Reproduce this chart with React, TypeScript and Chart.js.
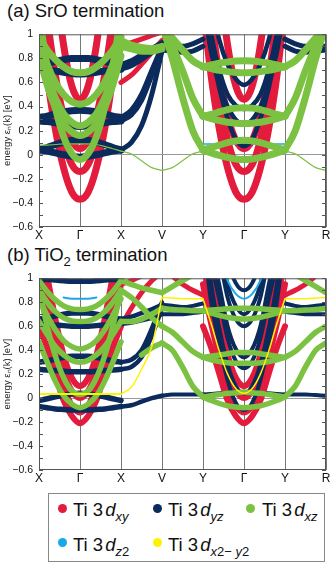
import React, { useEffect, useRef } from 'react';
import { Chart, registerables } from 'chart.js';
Chart.register(...registerables);

const RED = '#e31b3c';
const NAVY = '#0b2b5c';
const GREEN = '#7cc242';
const CYAN = '#1ba8e8';
const YEL = '#fff200';

const kLabels = ['X', 'Γ', 'X', 'V', 'Y', 'Γ', 'Y', 'R'];
const yMinorTicks = [-0.6, -0.5, -0.4, -0.3, -0.2, -0.1, 0, 0.1, 0.2, 0.3, 0.4, 0.5, 0.6, 0.7, 0.8, 0.9, 1];

// k grids (path coordinate) for each part of the path
const kA = [0, 0.2, 0.4, 0.6, 0.8, 1, 1.2, 1.4, 1.6, 1.8, 2];
const kXV = [2, 2.25, 2.5, 2.75, 3];
const kVY = [3, 3.25, 3.5, 3.75, 4];
const kC = [4, 4.2, 4.4, 4.6, 4.8, 5, 5.2, 5.4, 5.6, 5.8, 6];
const kYR = [6, 6.25, 6.5, 6.75, 7];

// ---------- (a) SrO termination ----------
const aR1 = [1.23, 0.65, 0.21, -0.11, -0.31, -0.37, -0.31, -0.11, 0.21, 0.65, 1.23];
const aR2 = [1.46, 0.88, 0.44, 0.12, -0.08, -0.14, -0.08, 0.12, 0.44, 0.88, 1.46];
const aR3 = [1.75, 1.14, 0.66, 0.32, 0.12, 0.05, 0.12, 0.32, 0.66, 1.14, 1.75];
const aR4 = [3.3, 2.25, 1.47, 0.91, 0.57, 0.46, 0.57, 0.91, 1.47, 2.25, 3.3];
const aN1 = [0.04, 0.06, 0.085, 0.105, 0.118, 0.12, 0.118, 0.105, 0.085, 0.06, 0.04];
const aN2 = [0.04, 0.03, 0.015, 0.0, -0.012, -0.02, -0.012, 0.0, 0.015, 0.03, 0.04];
const aN3 = [0.31, 0.32, 0.34, 0.355, 0.365, 0.37, 0.365, 0.355, 0.34, 0.32, 0.31];
const aN4 = [0.28, 0.275, 0.265, 0.25, 0.24, 0.235, 0.24, 0.25, 0.265, 0.275, 0.28];
const aN5 = [0.75, 0.76, 0.775, 0.79, 0.8, 0.8, 0.8, 0.79, 0.775, 0.76, 0.75];
const aN6 = [0.71, 0.705, 0.695, 0.685, 0.675, 0.67, 0.675, 0.685, 0.695, 0.705, 0.71];
const aG1 = [0.98, 0.87, 0.79, 0.73, 0.69, 0.68, 0.69, 0.73, 0.79, 0.87, 0.98];
const aG2 = [0.95, 0.75, 0.6, 0.5, 0.44, 0.42, 0.44, 0.5, 0.6, 0.75, 0.95];
const aG3 = [0.9, 0.66, 0.47, 0.34, 0.27, 0.24, 0.27, 0.34, 0.47, 0.66, 0.9];
const aG4 = [0.82, 0.58, 0.39, 0.26, 0.19, 0.16, 0.19, 0.26, 0.39, 0.58, 0.82];
const aG5 = [1.16, 0.73, 0.39, 0.15, 0.01, -0.04, 0.01, 0.15, 0.39, 0.73, 1.16];
const aGt = [0.08, 0.08, 0.085, 0.09, 0.09, 0.09, 0.09, 0.085, 0.07, 0.05, 0.03];

const xvaN1 = [0.04, 0.1, 0.24, 0.5, 0.86];
const xvaN2 = [0.28, 0.33, 0.45, 0.66, 0.88];
const xvaN3 = [0.31, 0.37, 0.5, 0.7, 0.9];
const xvaN4 = [0.71, 0.74, 0.79, 0.85, 0.91];
const xvaN5 = [0.75, 0.78, 0.83, 0.88, 0.93];
const xvaG1 = [0.95, 0.91, 0.89, 0.88, 0.9];
const xvaG2 = [0.9, 0.88, 0.86, 0.86, 0.88];
const xvaR1 = [0.6, 0.66, 0.75, 0.85, 0.95];
const xvaR2 = [0.9, 0.93, 0.96, 0.99, 1.02];
const xvaGt = [0.03, 0.007, -0.05, -0.107, -0.13];

const vyaG1 = [1.08, 0.8, 0.48, 0.2, 0.04];
const vyaG2 = [1.05, 0.9, 0.7, 0.47, 0.32];
const vyaG3 = [1.05, 0.97, 0.87, 0.78, 0.73];
const vyaGt = [-0.13, -0.107, -0.05, 0.007, 0.03];
const vyaN1 = [0.87, 0.86, 0.85, 0.86, 0.9];
const vyaN2 = [0.9, 0.9, 0.9, 0.92, 0.96];

const cN1 = [1.35, 0.9, 0.55, 0.3, 0.13, 0.07, 0.13, 0.3, 0.55, 0.9, 1.35];
const cN2 = [1.25, 0.85, 0.58, 0.4, 0.29, 0.25, 0.29, 0.4, 0.58, 0.85, 1.25];
const cN3 = [1.45, 1.0, 0.7, 0.5, 0.41, 0.38, 0.41, 0.5, 0.7, 1.0, 1.45];
const cN4 = [1.7, 1.25, 0.95, 0.75, 0.63, 0.58, 0.63, 0.75, 0.95, 1.25, 1.7];
const cG1u = [0.73, 0.745, 0.76, 0.77, 0.778, 0.78, 0.778, 0.77, 0.76, 0.745, 0.73];
const cG1l = [0.73, 0.715, 0.7, 0.69, 0.683, 0.68, 0.683, 0.69, 0.7, 0.715, 0.73];
const cG2u = [0.32, 0.335, 0.355, 0.375, 0.387, 0.39, 0.387, 0.375, 0.355, 0.335, 0.32];
const cG2l = [0.32, 0.3, 0.283, 0.27, 0.262, 0.26, 0.262, 0.27, 0.283, 0.3, 0.32];
const cG3u = [0.04, 0.06, 0.08, 0.1, 0.115, 0.12, 0.115, 0.1, 0.08, 0.06, 0.04];
const cG3l = [0.04, 0.015, -0.005, -0.022, -0.035, -0.04, -0.035, -0.022, -0.005, 0.015, 0.04];
const cBa = [0.09, 0.09, 0.09, 0.09, 0.09, 0.09, 0.09, 0.09, 0.09, 0.09, 0.09];

const yraG1 = [0.04, 0.2, 0.48, 0.8, 1.08];
const yraG2 = [0.32, 0.47, 0.7, 0.9, 1.05];
const yraG3 = [0.73, 0.78, 0.87, 0.97, 1.05];
const yraGt = [0.03, 0.007, -0.05, -0.107, -0.13];
const yraN1 = [0.9, 0.86, 0.85, 0.86, 0.87];
const yraN2 = [0.96, 0.92, 0.9, 0.9, 0.9];

// ---------- (b) TiO2 termination ----------
const bR1 = [0.6, 0.42, 0.2, -0.02, -0.15, -0.21, -0.15, -0.02, 0.2, 0.42, 0.6];
const bR2 = [0.95, 0.62, 0.34, 0.1, -0.06, -0.12, -0.06, 0.1, 0.34, 0.62, 0.95];
const bR3 = [1.15, 0.8, 0.48, 0.22, 0.06, 0.0, 0.06, 0.22, 0.48, 0.8, 1.15];
const bR4 = [1.4, 1.02, 0.66, 0.36, 0.17, 0.1, 0.17, 0.36, 0.66, 1.02, 1.4];
const bN1 = [0.99, 0.99, 0.985, 0.98, 0.975, 0.975, 0.975, 0.98, 0.985, 0.99, 0.99];
const bN2 = [0.66, 0.67, 0.685, 0.7, 0.71, 0.71, 0.71, 0.7, 0.685, 0.67, 0.66];
const bN3 = [0.62, 0.615, 0.61, 0.605, 0.6, 0.6, 0.6, 0.605, 0.61, 0.615, 0.62];
const bN4 = [0.3, 0.31, 0.325, 0.34, 0.35, 0.35, 0.35, 0.34, 0.325, 0.31, 0.3];
const bN5 = [0.24, 0.235, 0.23, 0.225, 0.22, 0.22, 0.22, 0.225, 0.23, 0.235, 0.24];
const bN6 = [-0.02, -0.005, 0.01, 0.025, 0.035, 0.04, 0.035, 0.025, 0.01, -0.005, -0.02];
const bN7 = [-0.07, -0.08, -0.09, -0.095, -0.1, -0.1, -0.1, -0.095, -0.09, -0.08, -0.07];
const bB = [null, null, null, 0.84, 0.83, 0.83, 0.83, 0.84, null, null, null];
const bY = [0.035, 0.035, 0.035, 0.035, 0.035, 0.035, 0.035, 0.035, 0.035, 0.035, 0.035];
const bG1 = [0.98, 0.89, 0.82, 0.77, 0.745, 0.74, 0.745, 0.77, 0.82, 0.89, 0.98];
const bG2 = [0.9, 0.8, 0.72, 0.67, 0.645, 0.64, 0.645, 0.67, 0.72, 0.8, 0.9];
const bG3 = [0.83, 0.69, 0.57, 0.48, 0.43, 0.41, 0.43, 0.48, 0.57, 0.69, 0.83];
const bG4 = [0.64, 0.53, 0.43, 0.36, 0.315, 0.3, 0.315, 0.36, 0.43, 0.53, 0.64];
const bG5 = [0.9, 0.6, 0.35, 0.17, 0.06, 0.03, 0.06, 0.17, 0.35, 0.6, 0.9];
const bG6 = [0.47, 0.3, 0.14, 0.02, -0.05, -0.08, -0.05, 0.02, 0.14, 0.3, 0.47];

const xvbN2 = [0.66, 0.68, 0.71, 0.74, 0.78];
const xvbN3 = [0.62, 0.63, 0.65, 0.67, 0.7];
const xvbN4 = [0.3, 0.32, 0.4, 0.58, 0.8];
const xvbN5 = [0.24, 0.26, 0.34, 0.52, 0.75];
const xvbN7 = [-0.07, -0.06, -0.03, 0.0, 0.02];
const xvbY = [0.035, 0.09, 0.24, 0.43, 0.84];
const xvbR1 = [0.6, 0.75, 0.88, 0.98, 1.05];
const xvbR2 = [0.95, 0.98, 1.02, 1.05, 1.08];
const xvbG1 = [0.9, 0.84, 0.76, 0.67, 0.6];
const xvbG2 = [0.64, 0.64, 0.66, 0.7, 0.75];
const xvbG3 = [0.98, 0.95, 0.92, 0.9, 0.88];
const xvbG4 = [null, null, 0.36, 0.42, 0.46];

const vybG1 = [0.46, 0.4, 0.26, 0.1, 0.01];
const vybG2 = [0.6, 0.55, 0.47, 0.39, 0.34];
const vybG3 = [0.75, 0.74, 0.735, 0.73, 0.73];
const vybG4 = [0.88, 0.93, 0.98, 1.03, 1.08];
const vybN7 = [0.02, 0.03, 0.03, 0.03, 0.03];
const vybN2 = [0.78, 0.77, 0.76, 0.77, 0.79];
const vybN3 = [0.7, 0.7, 0.7, 0.71, 0.72];
const vybY = [0.84, 0.835, 0.83, 0.83, 0.83];
const vybR1 = [1.1, 1.02, 0.95, 0.9, 0.86];

const cbN1 = [1.35, 0.8, 0.45, 0.15, -0.04, -0.1, -0.04, 0.15, 0.45, 0.8, 1.35];
const cbN2 = [1.5, 0.95, 0.58, 0.28, 0.1, 0.04, 0.1, 0.28, 0.58, 0.95, 1.5];
const cbN3 = [1.7, 1.15, 0.82, 0.5, 0.31, 0.25, 0.31, 0.5, 0.82, 1.15, 1.7];
const cbN4 = [1.8, 1.28, 0.94, 0.6, 0.41, 0.34, 0.41, 0.6, 0.94, 1.28, 1.8];
const cbN5 = [2.0, 1.5, 1.18, 0.84, 0.66, 0.6, 0.66, 0.84, 1.18, 1.5, 2.0];
const cbN6 = [2.1, 1.6, 1.3, 0.95, 0.77, 0.7, 0.77, 0.95, 1.3, 1.6, 2.1];
const cbN7 = [2.3, 1.8, 1.5, 1.15, 0.96, 0.9, 0.96, 1.15, 1.5, 1.8, 2.3];
const cbNf = [0.03, 0.035, 0.04, 0.045, 0.05, 0.05, 0.05, 0.045, 0.04, 0.035, 0.03];
const cbB = [null, null, 1.2, 0.98, 0.87, 0.83, 0.87, 0.98, 1.2, null, null];
const cbY = [0.83, 0.62, 0.39, 0.2, 0.08, 0.04, 0.08, 0.2, 0.39, 0.62, 0.83];
const cbG1u = [0.73, 0.735, 0.74, 0.745, 0.75, 0.75, 0.75, 0.745, 0.74, 0.735, 0.73];
const cbG1l = [0.73, 0.71, 0.69, 0.675, 0.665, 0.66, 0.665, 0.675, 0.69, 0.71, 0.73];
const cbG2u = [0.34, 0.35, 0.36, 0.37, 0.38, 0.38, 0.38, 0.37, 0.36, 0.35, 0.34];
const cbG2l = [0.34, 0.32, 0.305, 0.295, 0.29, 0.29, 0.29, 0.295, 0.305, 0.32, 0.34];
const cbG3u = [0.01, 0.02, 0.03, 0.04, 0.045, 0.05, 0.045, 0.04, 0.03, 0.02, 0.01];
const cbG3l = [0.01, -0.02, -0.045, -0.065, -0.075, -0.08, -0.075, -0.065, -0.045, -0.02, 0.01];

const yrbG1 = [0.01, 0.1, 0.26, 0.4, 0.46];
const yrbG2 = [0.34, 0.39, 0.47, 0.55, 0.6];
const yrbG3 = [0.73, 0.73, 0.735, 0.74, 0.75];
const yrbG4 = [1.08, 1.03, 0.98, 0.93, 0.88];
const yrbN7 = [0.03, 0.03, 0.03, 0.025, 0.02];
const yrbN2 = [0.79, 0.77, 0.76, 0.77, 0.78];
const yrbN3 = [0.72, 0.71, 0.7, 0.7, 0.7];
const yrbY = [0.83, 0.83, 0.83, 0.835, 0.84];
const yrbR1 = [0.86, 0.9, 0.95, 1.02, 1.1];

type Band = { k: number[]; e: (number | null)[]; c: string; w: number; o: number };
const B = (k: number[], e: (number | null)[], c: string, w: number, o: number): Band => ({ k, e, c, w, o });

const WA = 7;
const bandsA: Band[] = [
  ...[aR1, aR2, aR3, aR4].map((e) => B(kA, e, RED, WA, 50)),
  ...[aR1, aR2, aR3, aR4].map((e) => B(kC, e, RED, WA, 50)),
  B(kXV, xvaR1, RED, 5, 50), B(kXV, xvaR2, RED, 5, 50),
  ...[aN1, aN2, aN3, aN4, aN5, aN6].map((e) => B(kA, e, NAVY, WA, 40)),
  ...[xvaN1, xvaN2, xvaN3, xvaN4, xvaN5].map((e) => B(kXV, e, NAVY, 5, 40)),
  ...[vyaN1, vyaN2].map((e) => B(kVY, e, NAVY, 5, 40)),
  ...[yraN1, yraN2].map((e) => B(kYR, e, NAVY, 5, 40)),
  ...[cN1, cN2, cN3, cN4].map((e) => B(kC, e, NAVY, 4.5, 40)),
  ...[aG1, aG2, aG3, aG4, aG5].map((e) => B(kA, e, GREEN, WA, 30)),
  ...[xvaG1, xvaG2].map((e) => B(kXV, e, GREEN, WA, 30)),
  ...[vyaG1, vyaG2, vyaG3].map((e) => B(kVY, e, GREEN, WA, 30)),
  ...[yraG1, yraG2, yraG3].map((e) => B(kYR, e, GREEN, WA, 30)),
  ...[cG1u, cG1l, cG2u, cG2l, cG3u, cG3l].map((e) => B(kC, e, GREEN, WA, 30)),
  B(kC, cBa, CYAN, 1.5, 45),
  B(kA, aGt, GREEN, 1.2, 15), B(kXV, xvaGt, GREEN, 1.2, 15), B(kVY, vyaGt, GREEN, 1.2, 15), B(kYR, yraGt, GREEN, 1.2, 15),
];

const WB = 5.5;
const bandsB: Band[] = [
  ...[bR1, bR2, bR3, bR4].map((e) => B(kA, e, RED, 6, 50)),
  ...[bR1, bR2, bR3, bR4].map((e) => B(kC, e, RED, 6, 50)),
  B(kXV, xvbR1, RED, 5, 50), B(kXV, xvbR2, RED, 5, 50), B(kVY, vybR1, RED, 5, 50), B(kYR, yrbR1, RED, 5, 50),
  ...[bN1, bN2, bN3, bN4, bN5, bN6, bN7].map((e) => B(kA, e, NAVY, WB, 40)),
  ...[xvbN2, xvbN3, xvbN4, xvbN5, xvbN7].map((e) => B(kXV, e, NAVY, 4.5, 40)),
  ...[vybN7, vybN2, vybN3].map((e) => B(kVY, e, NAVY, 4, 40)),
  ...[yrbN7, yrbN2, yrbN3].map((e) => B(kYR, e, NAVY, 4, 40)),
  ...[cbN1, cbN2, cbN3, cbN4, cbN5, cbN6, cbN7, cbNf].map((e) => B(kC, e, NAVY, 4, 40)),
  ...[bG1, bG2, bG3, bG4, bG5, bG6].map((e) => B(kA, e, GREEN, WB, 30)),
  ...[xvbG1, xvbG2, xvbG3, xvbG4].map((e) => B(kXV, e, GREEN, WB, 30)),
  ...[vybG1, vybG2, vybG3, vybG4].map((e) => B(kVY, e, GREEN, WB, 30)),
  ...[yrbG1, yrbG2, yrbG3, yrbG4].map((e) => B(kYR, e, GREEN, WB, 30)),
  ...[cbG1u, cbG1l, cbG2u, cbG2l, cbG3u, cbG3l].map((e) => B(kC, e, GREEN, WB, 30)),
  B(kA, bB, CYAN, 2, 20), B(kC, cbB, CYAN, 2, 20),
  B(kA, bY, YEL, 2, 10), B(kXV, xvbY, YEL, 1.5, 10), B(kVY, vybY, YEL, 1.5, 10), B(kC, cbY, YEL, 1.5, 10), B(kYR, yrbY, YEL, 1.5, 10),
];

const fmtY = (v: number) => {
  const r = Math.round(v * 10) / 10;
  if (Math.abs(r) < 1e-9) return '0';
  if (r === 1) return '1';
  return (r < 0 ? '−' : '') + Math.abs(r).toFixed(1);
};

const framePlugin = {
  id: 'frame',
  afterDatasetsDraw(chart: any) {
    const { ctx, chartArea: a, scales } = chart;
    const y = scales.y;
    ctx.save();
    ctx.strokeStyle = '#555';
    ctx.lineWidth = 1;
    ctx.strokeRect(a.left + 0.5, a.top + 0.5, a.right - a.left - 1, a.bottom - a.top - 1);
    ctx.beginPath();
    for (const v of yMinorTicks) {
      const py = Math.round(y.getPixelForValue(v)) + 0.5;
      ctx.moveTo(a.left, py);
      ctx.lineTo(a.left + 4, py);
      ctx.moveTo(a.right - 4, py);
      ctx.lineTo(a.right, py);
    }
    ctx.stroke();
    ctx.restore();
  },
};

function makeChart(canvas: HTMLCanvasElement, bands: Band[], padTop: number, xH: number) {
  return new Chart(canvas, {
    type: 'line',
    data: {
      datasets: bands.map((b) => ({
        data: b.k.map((x, i) => ({ x, y: b.e[i] })),
        borderColor: b.c,
        borderWidth: b.w,
        pointRadius: 0,
        pointHoverRadius: 0,
        cubicInterpolationMode: 'monotone',
        fill: false,
        clip: 0,
        order: b.o,
        borderCapStyle: 'round',
        borderJoinStyle: 'round',
      })) as any,
    },
    options: {
      animation: false,
      responsive: false,
      maintainAspectRatio: false,
      events: [],
      layout: { padding: { left: 0, right: 6, top: padTop, bottom: 0 } },
      plugins: { legend: { display: false }, tooltip: { enabled: false } },
      scales: {
        x: {
          type: 'linear',
          min: 0,
          max: 7,
          afterFit: (s: any) => { s.height = xH; },
          ticks: {
            stepSize: 1,
            autoSkip: false,
            maxRotation: 0,
            padding: 1,
            color: '#111',
            font: { size: 12 },
            callback: (v: any) => kLabels[Math.round(Number(v))] ?? '',
          },
          grid: { color: '#777', lineWidth: 1, drawTicks: false },
          border: { display: false },
        },
        y: {
          type: 'linear',
          min: -0.6,
          max: 1,
          afterFit: (s: any) => { s.width = 39; },
          ticks: { stepSize: 0.2, padding: 6, color: '#111', font: { size: 10.5 }, callback: (v: any) => fmtY(Number(v)) },
          grid: {
            drawTicks: false,
            color: (c: any) => (Math.abs(c.tick.value) < 1e-6 ? '#999' : 'rgba(0,0,0,0)'),
          },
          border: { display: false },
          title: {
            display: true,
            text: 'energy εₙ(k) [eV]',
            font: { size: 9.5 },
            color: '#222',
            padding: { top: 1.5, bottom: 0 },
          },
        },
      },
    } as any,
    plugins: [framePlugin],
  });
}

const legendRows = [
  [
    { c: RED, sub: <i>xy</i> },
    { c: NAVY, sub: <i>yz</i> },
    { c: GREEN, sub: <i>xz</i> },
  ],
  [
    { c: CYAN, sub: <><i>z</i>2</> },
    { c: YEL, sub: <><i>x</i>2− <i>y</i>2</> },
  ],
];
const legendX = [62, 157, 250];
const legendTextX = [73, 168, 262];
const legendY = [508, 542.5];

export default function App() {
  const refA = useRef<HTMLCanvasElement>(null);
  const refB = useRef<HTMLCanvasElement>(null);
  useEffect(() => {
    Chart.defaults.font.family = '"Liberation Sans", Arial, Helvetica, sans-serif';
    const ca = makeChart(refA.current!, bandsA, 3, 17);
    const cb = makeChart(refB.current!, bandsB, 4, 20);
    return () => { ca.destroy(); cb.destroy(); };
  }, []);

  const font = '"Liberation Sans", Arial, Helvetica, sans-serif';
  return (
    <div style={{ position: 'absolute', left: 0, top: 0, width: 332, height: 563, background: '#fff', fontFamily: font, color: '#111', overflow: 'hidden' }}>
      <div style={{ position: 'absolute', left: 7, top: 1, fontSize: 18.5, lineHeight: '20px', whiteSpace: 'nowrap' }}>(a) SrO termination</div>
      <canvas ref={refA} width={332} height={222} style={{ position: 'absolute', left: 0, top: 22, display: 'block' }} />
      <div style={{ position: 'absolute', left: 7, top: 245, fontSize: 18.5, lineHeight: '20px', whiteSpace: 'nowrap' }}>
        (b) TiO<span style={{ fontSize: 13, verticalAlign: -5 }}>2</span> termination
      </div>
      <canvas ref={refB} width={332} height={224} style={{ position: 'absolute', left: 0, top: 266, display: 'block' }} />
      <div style={{ position: 'absolute', left: 48, top: 493, width: 277, height: 69, boxSizing: 'border-box', border: '1px solid #888' }} />
      {legendRows.map((row, ri) =>
        row.map((it, ci) => (
          <React.Fragment key={`${ri}-${ci}`}>
            <div style={{ position: 'absolute', left: legendX[ci] - 4.5, top: legendY[ri] - 4.5, width: 9, height: 9, borderRadius: '50%', background: it.c }} />
            <div style={{ position: 'absolute', left: legendTextX[ci], top: legendY[ri] - 8, fontSize: 18.5, lineHeight: '20px', whiteSpace: 'nowrap' }}>
              Ti 3<span style={{ marginLeft: 2 }}><i>d</i></span>
              <span style={{ fontSize: 13, verticalAlign: -5 }}>{it.sub}</span>
            </div>
          </React.Fragment>
        ))
      )}
    </div>
  );
}
